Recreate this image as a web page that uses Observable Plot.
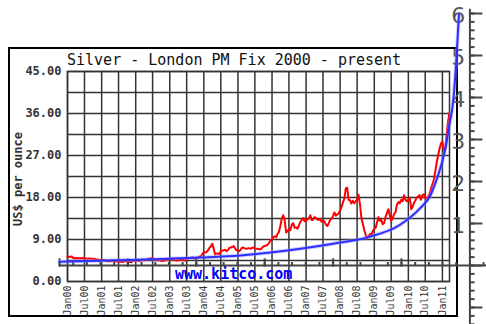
<!DOCTYPE html>
<html><head><meta charset="utf-8">
<script src="https://cdn.jsdelivr.net/npm/d3@7"></script>
<script src="https://cdn.jsdelivr.net/npm/@observablehq/plot@0.6"></script>
<style>
html,body{margin:0;padding:0;background:#fff;}
#wrap{position:relative;width:486px;height:324px;overflow:hidden;background:#fff;}
#wrap > *{position:absolute;left:0;top:0;}
#wrap > #box{left:8px;top:47px;width:450px;height:270px;box-sizing:border-box;border:2px solid #000;}
</style></head><body>
<div id="wrap"><div id="box"></div></div>
<script>
const MONO = "'DejaVu Sans Mono', 'Liberation Mono', monospace";
const titleText = "Silver - London PM Fix 2000 - present";
const yLabelText = "US$ per ounce";
const sourceText = "www.kitco.com";

// x tick labels (half-year gridlines)
const xTickLabels = ["Jan00","Jul00","Jan01","Jul01","Jan02","Jul02","Jan03","Jul03","Jan04","Jul04",
  "Jan05","Jul05","Jan06","Jul06","Jan07","Jul07","Jan08","Jul08","Jan09","Jul09","Jan10","Jul10","Jan11"];
const yTickValues = [0, 9, 18, 27, 36, 45];
const yGridValues = [0, 4.5, 9, 13.5, 18, 22.5, 27, 31.5, 36, 40.5, 45];

// silver price, US$/oz, 1st and 16th of each month
const p2000 = [5.35,5.25,5.30,5.35,5.05,5.00,5.05,5.00,5.00,4.98,5.00,5.05,5.05,4.95,4.90,4.95,4.95,4.90,4.85,4.90,4.70,4.72,4.65,4.60];
const p2001 = [4.65,4.60,4.55,4.50,4.40,4.35,4.35,4.38,4.40,4.45,4.35,4.30,4.25,4.22,4.25,4.20,4.30,4.45,4.25,4.20,4.15,4.10,4.40,4.55];
const p2002 = [4.50,4.55,4.40,4.45,4.55,4.65,4.55,4.60,4.65,4.80,4.95,4.85,5.05,4.80,4.60,4.55,4.60,4.55,4.45,4.40,4.50,4.55,4.65,4.70];
const p2003 = [4.80,4.85,4.70,4.60,4.55,4.50,4.55,4.60,4.75,4.70,4.55,4.50,4.80,5.00,5.00,5.10,5.15,5.05,4.95,5.00,5.15,5.30,5.40,5.85];
const p2004 = [6.30,6.20,6.35,6.70,7.20,7.50,8.10,7.00,5.80,6.00,6.00,5.85,6.50,6.60,6.70,6.80,6.50,6.75,7.20,7.30,7.40,7.60,7.10,6.70];
const p2005 = [6.60,6.50,6.90,7.30,7.25,7.10,7.00,7.10,7.10,7.00,7.20,7.30,7.10,7.00,7.00,6.90,6.90,7.20,7.50,7.60,7.70,7.90,8.30,8.80];
const p2006 = [9.00,9.50,9.70,9.50,10.20,10.60,12.00,13.50,14.20,13.20,10.50,10.80,11.20,11.00,12.20,12.50,11.50,11.60,11.30,12.00,12.80,13.20,13.60,12.90];
const p2007 = [13.00,13.40,13.50,14.20,13.20,13.20,13.80,13.60,13.30,13.20,13.40,12.80,13.00,12.90,12.20,11.90,12.50,13.20,13.50,14.00,14.80,14.10,14.40,14.60];
const p2008 = [15.20,16.00,17.00,17.80,19.90,20.10,17.50,17.40,16.70,17.30,16.80,17.20,17.50,18.60,16.50,13.60,12.30,11.00,10.00,9.30,9.70,10.20,10.00,10.80];
const p2009 = [11.30,11.50,12.80,13.80,13.00,13.20,12.30,12.50,13.80,14.60,15.50,14.20,13.00,13.50,14.50,14.80,16.50,17.00,16.80,17.50,17.20,18.50,17.50,17.20];
const p2010 = [17.50,18.00,15.50,16.00,16.80,17.30,18.00,18.20,18.50,17.50,18.50,18.70,18.00,17.80,18.20,18.70,19.90,20.80,21.80,23.50,25.50,27.00,28.50,29.50];
const p2011 = [30.00,28.00,28.30,31.50,34.00,36.00];
const priceYears = [[2000,p2000],[2001,p2001],[2002,p2002],[2003,p2003],[2004,p2004],[2005,p2005],
  [2006,p2006],[2007,p2007],[2008,p2008],[2009,p2009],[2010,p2010],[2011,p2011]];

// overlay curve (own 0..6 axes)
const blueX = [0, 1, 2.06, 2.64, 3.52, 4.0, 4.5, 4.98, 5.27, 5.42, 5.52, 5.60, 5.655, 5.70, 5.755, 5.79, 5.82, 5.84];
const blueY = [0.09, 0.13, 0.19, 0.24, 0.40, 0.52, 0.67, 0.97, 1.36, 1.66, 2.08, 2.50, 2.90, 3.35, 3.90, 4.60, 5.40, 5.98];
const rightAxisLabels = [1, 2, 3, 4, 5, 6];

const priceData = priceYears.flatMap(([yr, arr]) =>
  arr.map((v, i) => ({date: new Date(Date.UTC(yr, Math.floor(i / 2), i % 2 ? 16 : 1)), price: v})));
const xTicks = xTickLabels.map(d3.utcParse("%b%y"));

const main = Plot.plot({
  width: 486, height: 324,
  marginLeft: 67, marginRight: 37, marginTop: 71, marginBottom: 43,
  style: {background: "transparent", fontFamily: MONO},
  x: {type: "utc", domain: [new Date(Date.UTC(2000,0,1)), new Date(Date.UTC(2011,2,18))]},
  y: {domain: [0, 45]},
  marks: [
    Plot.gridY(yGridValues, {stroke: "#333", strokeOpacity: 1, strokeWidth: 1.5}),
    Plot.gridX(xTicks, {stroke: "#333", strokeOpacity: 1, strokeWidth: 1.5}),
    Plot.frame({stroke: "#333", strokeWidth: 1.5}),
    Plot.axisY(yTickValues, {tickSize: 0, tickPadding: 6, tickFormat: d => d.toFixed(2),
      fontSize: 12, fontWeight: "bold", fill: "#333", label: null, fontFamily: MONO}),
    Plot.axisX(xTicks, {tickSize: 0, tickPadding: 4, tickRotate: -90, tickFormat: d3.utcFormat("%b%y"),
      fontSize: 10, fill: "#333", label: null, fontFamily: MONO}),
    Plot.lineY(priceData, {x: "date", y: "price", stroke: "#ff0000", strokeWidth: 2})
  ]
});

// text layer
const txt = d3.create("svg").attr("width", 486).attr("height", 324)
  .attr("style", "font-family:" + MONO.replace(/"/g, "'"));
txt.append("text").attr("x", 67).attr("y", 65).attr("font-size", 15).attr("fill", "#111").text(titleText);
txt.append("text").attr("x", 175).attr("y", 279).attr("font-size", 15).attr("font-weight", "bold")
  .attr("fill", "#0000ff").text(sourceText);
txt.append("text").attr("transform", "translate(22,179) rotate(-90)").attr("text-anchor", "middle")
  .attr("font-size", 12).attr("font-weight", "bold").attr("fill", "#333").text(yLabelText);

// overlay axes + curve
const hMinor = d3.range(0, 6.25, 0.2);
const hMajor = [0, 1, 2, 3, 4, 5];
const vMinor = d3.range(-1.4, 6.05, 0.2);
const vMajor = [-1, 0, 1, 2, 3, 4, 5, 6];
const blueData = blueX.map((x, i) => ({x, y: blueY[i]}));
const over = Plot.plot({
  width: 486, height: 324,
  marginLeft: 59, marginRight: 16.6, marginTop: 13, marginBottom: 59,
  style: {background: "transparent", overflow: "visible"},
  x: {domain: [0, 6], axis: null},
  y: {domain: [0, 6], axis: null},
  marks: [
    Plot.ruleY([0], {x1: 0, x2: 6.3, stroke: "#444", strokeWidth: 2}),
    Plot.ruleX([6], {y1: -1.6, y2: 6.1, stroke: "#444", strokeWidth: 2}),
    Plot.ruleX(hMinor, {y1: 0, y2: 0.07, stroke: "#444", strokeWidth: 2}),
    Plot.ruleX(hMajor, {y1: -0.04, y2: 0.16, stroke: "#444", strokeWidth: 2}),
    Plot.ruleY(vMinor, {x1: 6, x2: 6.075, stroke: "#444", strokeWidth: 2}),
    Plot.ruleY(vMajor, {x1: 6, x2: 6.19, stroke: "#444", strokeWidth: 2}),
    Plot.text(rightAxisLabels, {x: 5.83, y: d => d, text: d => String(d), dy: 2,
      fontSize: 22, fill: "#555", fontFamily: "'DejaVu Sans', sans-serif"}),
    Plot.line(blueData, {x: "x", y: "y", curve: "monotone-x", stroke: "#8c8cff", strokeWidth: 4, strokeOpacity: 0.4}),
    Plot.line(blueData, {x: "x", y: "y", curve: "monotone-x", stroke: "#2e2eff", strokeWidth: 2})
  ]
});

const wrap = document.getElementById("wrap");
wrap.appendChild(main);
wrap.appendChild(txt.node());
wrap.appendChild(over);
</script>
</body></html>
